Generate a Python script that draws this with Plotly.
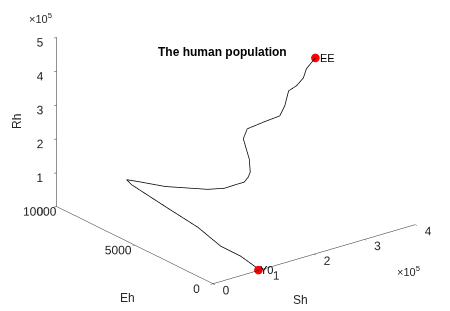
import plotly.graph_objects as go

# trajectory (Sh, Eh, Rh)
Sh = [0.911e5, 0.944e5, 0.996e5, 0.974e5, 1.131e5, 1.197e5, 1.268e5, 1.290e5, 1.320e5,
      1.385e5, 1.587e5, 1.654e5, 1.704e5, 1.714e5, 1.745e5, 1.744e5, 1.721e5, 1.682e5,
      1.685e5, 1.815e5, 2.114e5, 2.375e5, 2.435e5, 2.522e5, 2.661e5, 2.820e5, 2.914e5, 3.130e5]
Eh = [43, 405, 1459, 2653, 4617, 6922, 9304, 9690, 9030,
      7530, 5466, 4604, 3944, 3535, 3383, 3250, 3240, 3304,
      3503, 3673, 3566, 3401, 3277, 3308, 3252, 3325, 3438, 3570]
Rh = [0, 0.02e5, 0.05e5, 0.08e5, 0.12e5, 0.18e5, 0.25e5, 0.30e5, 0.38e5,
      0.55e5, 0.85e5, 1.05e5, 1.30e5, 1.45e5, 1.62e5, 1.80e5, 2.20e5, 2.50e5,
      2.75e5, 2.95e5, 3.05e5, 3.15e5, 3.45e5, 3.85e5, 3.95e5, 4.10e5, 4.30e5, 4.50e5]

sh_ticks = [0, 1e5, 2e5, 3e5, 4e5]
sh_text = ["0", "1", "2", "3", "4"]
eh_ticks = [0, 5000, 10000]
eh_text = ["0", "5000", "10000"]
rh_ticks = [0, 1e5, 2e5, 3e5, 4e5, 5e5]
rh_text = ["0", "1", "2", "3", "4", "5"]

FONT = "Liberation Sans, Arial, sans-serif"
TXT = "#262626"

fig = go.Figure()
fig.add_trace(go.Scatter3d(x=Sh, y=Eh, z=Rh, mode="lines",
                           line=dict(color="black", width=1.5), showlegend=False,
                           hoverinfo="skip"))
fig.add_trace(go.Scatter3d(x=[Sh[0], Sh[-1]], y=[Eh[0], Eh[-1]], z=[Rh[0], Rh[-1]],
                           mode="markers", marker=dict(color="red", size=5),
                           showlegend=False, hoverinfo="skip"))

ax_common = dict(showgrid=False, showbackground=False, zeroline=False, showline=True,
                 linecolor=TXT, linewidth=1, ticks="outside", ticklen=3,
                 tickcolor=TXT, tickangle=0,
                 tickfont=dict(family=FONT, size=12, color=TXT),
                 showspikes=False, title=dict(text=""))

E = 1.21
shift = dict(x=-0.055, y=0.0425, z=-0.17)
fig.update_layout(
    width=450, height=311, margin=dict(l=0, r=0, t=0, b=0),
    paper_bgcolor="white",
    font=dict(family=FONT, size=10, color=TXT),
    scene=dict(
        domain=dict(x=[0, 1], y=[0, 1]),
        xaxis=dict(range=[0, 4e5], tickvals=sh_ticks, ticktext=sh_text, **ax_common),
        yaxis=dict(range=[0, 10000], tickvals=eh_ticks, ticktext=eh_text, **ax_common),
        zaxis=dict(range=[0, 5e5], tickvals=rh_ticks, ticktext=rh_text, **ax_common),
        aspectmode="manual", aspectratio=dict(x=1.64, y=1.65, z=1.175),
        camera=dict(projection=dict(type="orthographic"),
                    eye=dict(x=-0.564 * E + shift["x"], y=-0.733 * E + shift["y"],
                             z=0.380 * E + shift["z"]),
                    up=dict(x=0, y=0, z=1), center=shift),
        annotations=[
            dict(x=Sh[-1], y=Eh[-1], z=Rh[-1], text="EE", showarrow=False,
                 xanchor="left", xshift=3, font=dict(size=11, color="black")),
            dict(x=Sh[0], y=Eh[0], z=Rh[0], text="Y0", showarrow=False,
                 xanchor="left", xshift=0, font=dict(size=11, color="black")),
        ],
    ),
    annotations=[
        dict(text="<b>The human population</b>", x=222 / 450, y=1 - 52 / 311,
             xref="paper", yref="paper", xanchor="center", yanchor="middle",
             showarrow=False, font=dict(size=12, color="black")),
        dict(text="×10<sup>5</sup>", x=40 / 450, y=1 - 18 / 311, xref="paper",
             yref="paper", xanchor="center", yanchor="middle",
             showarrow=False, font=dict(size=11, color=TXT)),
        dict(text="×10<sup>5</sup>", x=408 / 450, y=1 - 271 / 311, xref="paper",
             yref="paper", xanchor="center", yanchor="middle",
             showarrow=False, font=dict(size=11, color=TXT)),
        dict(text="Rh", x=17 / 450, y=1 - 122 / 311, xref="paper", yref="paper",
             xanchor="center", yanchor="middle", textangle=-90,
             showarrow=False, font=dict(size=12, color=TXT)),
        dict(text="Eh", x=127 / 450, y=1 - 298 / 311, xref="paper", yref="paper",
             xanchor="center", yanchor="middle",
             showarrow=False, font=dict(size=12, color=TXT)),
        dict(text="Sh", x=300 / 450, y=1 - 300 / 311, xref="paper", yref="paper",
             xanchor="center", yanchor="middle",
             showarrow=False, font=dict(size=12, color=TXT)),
    ],
)

fig.write_html("out.html", config={"displayModeBar": False},
               post_script="document.body.style.margin='0';")
